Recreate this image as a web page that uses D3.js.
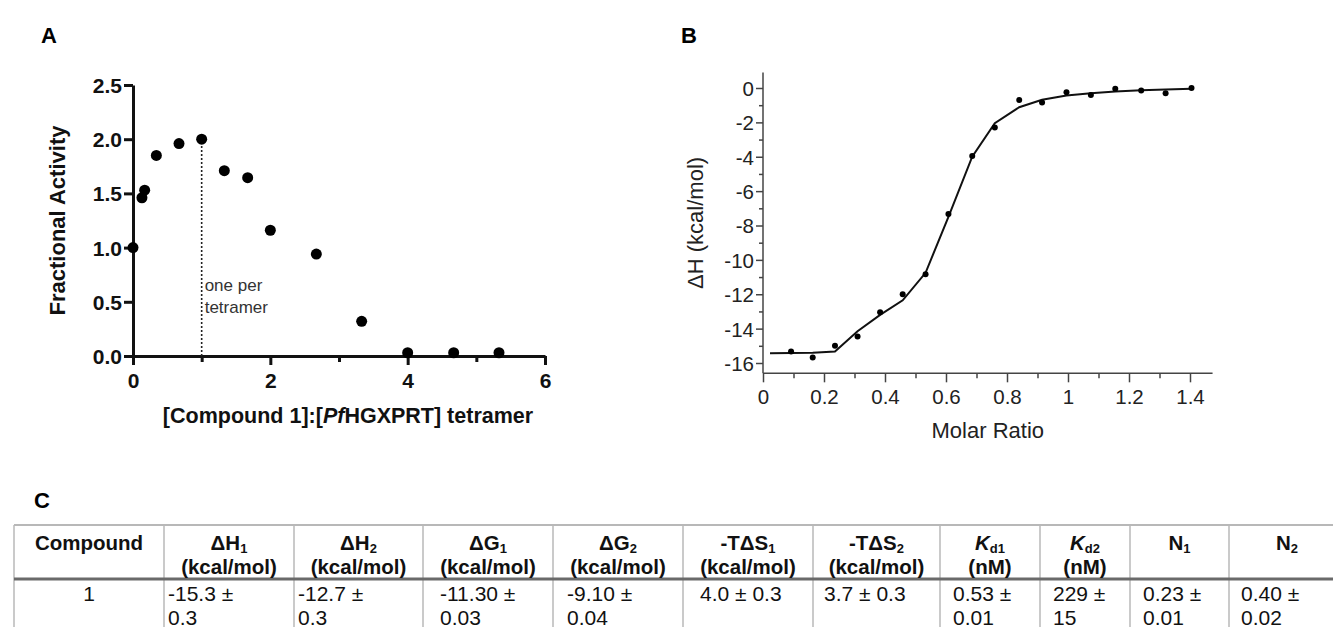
<!DOCTYPE html>
<html><head><meta charset="utf-8">
<script src="https://cdn.jsdelivr.net/npm/d3@7/dist/d3.min.js"></script>
<style>
html,body{margin:0;padding:0;background:#fff;}
svg{display:block;font-family:"Liberation Sans",Arial,sans-serif;}
</style></head>
<body>
<svg id="c" width="1333" height="627"></svg>
<script>
// ---------- Data ----------
// Panel A: fractional activity vs [Compound 1]:[PfHGXPRT] tetramer
const ratioA = [0, 0.13, 0.17, 0.34, 0.67, 1.0, 1.33, 1.67, 2.0, 2.67, 3.33, 4.0, 4.67, 5.33];
const activityA = [1.0, 1.46, 1.53, 1.85, 1.96, 2.0, 1.71, 1.645, 1.16, 0.94, 0.32, 0.03, 0.03, 0.03];
const xTicksA = [0, 2, 4, 6];
const xMinorA = [1, 3, 5];
const yTicksA = [0, 0.5, 1.0, 1.5, 2.0, 2.5];
const markerA = 1; // one per tetramer

// Panel B: ITC isotherm
const molarB = [0.092, 0.163, 0.236, 0.31, 0.384, 0.458, 0.533, 0.608, 0.686, 0.76, 0.84, 0.915, 0.995, 1.075, 1.155, 1.24, 1.32, 1.405];
const dHB = [-15.33, -15.68, -15.0, -14.46, -13.04, -12.0, -10.83, -7.33, -3.95, -2.3, -0.7, -0.85, -0.25, -0.4, -0.05, -0.15, -0.3, 0.0];
const fitX = [0.023, 0.092, 0.163, 0.236, 0.31, 0.384, 0.458, 0.533, 0.608, 0.686, 0.76, 0.84, 0.915, 0.995, 1.075, 1.155, 1.24, 1.32, 1.405];
const fitY = [-15.43, -15.42, -15.4, -15.33, -14.15, -13.2, -12.35, -10.75, -7.5, -4.0, -2.05, -1.12, -0.68, -0.44, -0.3, -0.2, -0.13, -0.09, -0.05];
const xTicksB = [0, 0.2, 0.4, 0.6, 0.8, 1.0, 1.2, 1.4];
const xMinorB = [0.1, 0.3, 0.5, 0.7, 0.9, 1.1, 1.3];
const yTicksB = [0, -2, -4, -6, -8, -10, -12, -14, -16];
const yMinorB = [-1, -3, -5, -7, -9, -11, -13, -15];

// Panel C: table
const headMain = ["Compound", "ΔH", "ΔH", "ΔG", "ΔG", "-TΔS", "-TΔS", "K", "K", "N", "N"];
const headSub  = ["", "1", "2", "1", "2", "1", "2", "d1", "d2", "1", "2"];
const headUnit = ["", "(kcal/mol)", "(kcal/mol)", "(kcal/mol)", "(kcal/mol)", "(kcal/mol)", "(kcal/mol)", "(nM)", "(nM)", "", ""];
const rowLine1 = ["1", "-15.3 ±", "-12.7 ±", "-11.30 ±", "-9.10 ±", "4.0 ± 0.3", "3.7 ± 0.3", "0.53 ±", "229 ±", "0.23 ±", "0.40 ±"];
const rowLine2 = ["", "0.3", "0.3", "0.03", "0.04", "", "", "0.01", "15", "0.01", "0.02"];

// ---------- Layout ----------
const svg = d3.select("#c");
const FONT = '"Liberation Sans",Arial,sans-serif';
const plain = d => String(d); // hyphen-minus, as in the reference

// Panel letters
svg.append("text").attr("x", 41).attr("y", 43).attr("font-size", 22).attr("font-weight", "bold").text("A");
svg.append("text").attr("x", 681).attr("y", 43).attr("font-size", 22).attr("font-weight", "bold").text("B");
svg.append("text").attr("x", 34).attr("y", 508).attr("font-size", 22).attr("font-weight", "bold").text("C");

// ----- Panel A -----
const xA = d3.scaleLinear().domain([0, 6]).range([133, 545]);
const yA = d3.scaleLinear().domain([0, 2.5]).range([356, 85]);
const gA = svg.append("g");

const axYA = gA.append("g").attr("transform", `translate(${xA(0)},0)`)
  .call(d3.axisLeft(yA).tickValues(yTicksA).tickFormat(d3.format(".1f")).tickSize(9).tickSizeOuter(0));
const axXA = gA.append("g").attr("transform", `translate(0,${yA(0)})`)
  .call(d3.axisBottom(xA).tickValues(xTicksA).tickFormat(d3.format("d")).tickSize(9).tickSizeOuter(0));
const axXAm = gA.append("g").attr("transform", `translate(0,${yA(0)})`)
  .call(d3.axisBottom(xA).tickValues(xMinorA).tickFormat("").tickSize(6).tickSizeOuter(0));
axXAm.select(".domain").remove();
[axYA, axXA, axXAm].forEach(a => {
  a.selectAll("path,line").attr("stroke", "#111").attr("stroke-width", 3);
  a.selectAll("text").attr("font-family", FONT).attr("font-weight", "bold").attr("font-size", 21).attr("fill", "#111");
});
axYA.selectAll("text").attr("x", -11).attr("dy", "0.36em");
axXA.selectAll("text").attr("y", 17);

// dotted marker line
gA.append("line").attr("x1", xA(markerA)).attr("x2", xA(markerA))
  .attr("y1", yA(0)).attr("y2", yA(2.0))
  .attr("stroke", "#222").attr("stroke-width", 1.6).attr("stroke-dasharray", "2,2");
gA.append("text").attr("x", xA(markerA) + 3).attr("y", 291).attr("font-size", 17).attr("fill", "#333").text("one per");
gA.append("text").attr("x", xA(markerA) + 3).attr("y", 313).attr("font-size", 17).attr("fill", "#333").text("tetramer");

gA.selectAll("circle.pa").data(ratioA).join("circle").attr("class", "pa")
  .attr("cx", (d, i) => xA(d)).attr("cy", (d, i) => yA(activityA[i])).attr("r", 5.5).attr("fill", "#000");

// axis titles A
const tA = gA.append("text").attr("x", 348).attr("y", 423).attr("text-anchor", "middle")
  .attr("font-size", 21.5).attr("font-weight", "bold").attr("fill", "#111");
tA.append("tspan").text("[Compound 1]:[");
tA.append("tspan").attr("font-style", "italic").text("Pf");
tA.append("tspan").text("HGXPRT] tetramer");
gA.append("text").attr("transform", `translate(65,${(yA(0) + yA(2.5)) / 2}) rotate(-90)`)
  .attr("text-anchor", "middle").attr("font-size", 22).attr("font-weight", "bold").attr("fill", "#111")
  .text("Fractional Activity");

// ----- Panel B -----
const xB = d3.scaleLinear().domain([0, 1.4]).range([763, 1190]);
const yB = d3.scaleLinear().domain([0, -16]).range([88, 363]);
const gB = svg.append("g");
const xEnd = xB(1.474), yBottom = yB(-16.6), yTop = yB(0.9);

const axYB = gB.append("g").attr("transform", `translate(${xB(0)},0)`)
  .call(d3.axisLeft(yB).tickValues(yTicksB).tickFormat(plain).tickSize(7).tickSizeOuter(0));
const axYBm = gB.append("g").attr("transform", `translate(${xB(0)},0)`)
  .call(d3.axisLeft(yB).tickValues(yMinorB).tickFormat("").tickSize(4).tickSizeOuter(0));
axYBm.select(".domain").remove();
axYB.select(".domain").attr("d", `M0,${yTop}V${yBottom}`);
const axXB = gB.append("g").attr("transform", `translate(0,${yBottom})`)
  .call(d3.axisBottom(xB).tickValues(xTicksB).tickFormat(plain).tickSize(9).tickSizeOuter(0));
const axXBm = gB.append("g").attr("transform", `translate(0,${yBottom})`)
  .call(d3.axisBottom(xB).tickValues(xMinorB).tickFormat("").tickSize(5).tickSizeOuter(0));
axXBm.select(".domain").remove();
axXB.select(".domain").attr("d", `M${xB(0)},0H${xEnd}`);
[axYB, axYBm, axXB, axXBm].forEach(a => {
  a.selectAll("path,line").attr("stroke", "#444").attr("stroke-width", 1.5);
  a.selectAll("text").attr("font-family", FONT).attr("font-size", 20.5).attr("fill", "#222");
});
axYB.selectAll("text").attr("x", -9).attr("dy", "0.36em");
axXB.selectAll("text").attr("y", 16);

const line = d3.line().x(d => xB(d[0])).y(d => yB(d[1]));
gB.append("path").datum(fitX.map((x, i) => [x, fitY[i]])).attr("d", line)
  .attr("fill", "none").attr("stroke", "#111").attr("stroke-width", 2);
gB.selectAll("circle.pb").data(molarB).join("circle").attr("class", "pb")
  .attr("cx", d => xB(d)).attr("cy", (d, i) => yB(dHB[i])).attr("r", 3).attr("fill", "#000");

gB.append("text").attr("x", (xB(0) + xEnd) / 2).attr("y", 438).attr("text-anchor", "middle")
  .attr("font-size", 22).attr("fill", "#222").text("Molar Ratio");
gB.append("text").attr("transform", `translate(703,${(yTop + yBottom) / 2}) rotate(-90)`)
  .attr("text-anchor", "middle").attr("font-size", 22).attr("fill", "#222").text("ΔH (kcal/mol)");

// ----- Panel C: table -----
const colEdges = [14, 164, 294, 423, 553, 683, 813, 940, 1040, 1130, 1229, 1345];
const dataPad = [null, 4, 4, 17, 14, 17, 11, 13, 13, 13, 12];
const tTop = 525, tHeadBottom = 579, tBottom = 640;
const gC = svg.append("g");
const gridC = "#b8b8b8";
colEdges.forEach(x => gC.append("line").attr("x1", x).attr("x2", x).attr("y1", tTop).attr("y2", tBottom)
  .attr("stroke", gridC).attr("stroke-width", 1.5));
gC.append("line").attr("x1", colEdges[0]).attr("x2", 1345).attr("y1", tTop).attr("y2", tTop)
  .attr("stroke", gridC).attr("stroke-width", 2);
gC.append("line").attr("x1", colEdges[0]).attr("x2", 1345).attr("y1", tHeadBottom).attr("y2", tHeadBottom)
  .attr("stroke", "#6a6a6a").attr("stroke-width", 3);

headMain.forEach((m, i) => {
  const cx = (colEdges[i] + colEdges[i + 1]) / 2;
  const t = gC.append("text").attr("x", cx).attr("y", 543).attr("dy", "0.36em").attr("text-anchor", "middle")
    .attr("font-size", 20.5).attr("font-weight", "bold").attr("fill", "#111");
  t.append("tspan").attr("font-style", m === "K" ? "italic" : null).text(m);
  if (headSub[i]) t.append("tspan").attr("font-size", 13).attr("dy", 3).text(headSub[i]);
  if (headUnit[i]) gC.append("text").attr("x", cx).attr("y", 567).attr("dy", "0.36em").attr("text-anchor", "middle")
    .attr("font-size", 20.5).attr("font-weight", "bold").attr("fill", "#111").text(headUnit[i]);
});
rowLine1.forEach((v, i) => {
  const centered = dataPad[i] === null;
  const x = centered ? (colEdges[i] + colEdges[i + 1]) / 2 : colEdges[i] + dataPad[i];
  const anchor = centered ? "middle" : "start";
  gC.append("text").attr("x", x).attr("y", 593).attr("dy", "0.36em").attr("text-anchor", anchor)
    .attr("font-size", 21).attr("fill", "#111").text(v);
  if (rowLine2[i]) gC.append("text").attr("x", x).attr("y", 617).attr("dy", "0.36em").attr("text-anchor", anchor)
    .attr("font-size", 21).attr("fill", "#111").text(rowLine2[i]);
});
</script>
</body></html>
